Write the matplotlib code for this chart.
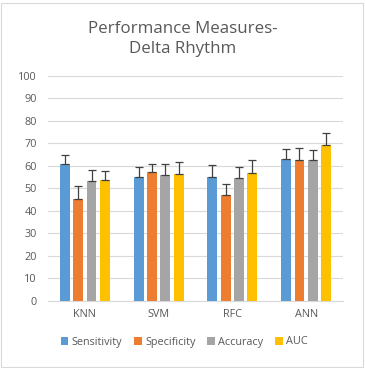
import matplotlib
matplotlib.use("Agg")
import matplotlib.pyplot as plt
import numpy as np
from matplotlib.patches import Rectangle

categories = ["KNN", "SVM", "RFC", "ANN"]
series = ["Sensitivity", "Specificity", "Accuracy", "AUC"]
sensitivity = [60.7, 55.0, 55.0, 63.0]
specificity = [45.3, 57.2, 47.0, 62.7]
accuracy = [53.3, 55.9, 54.5, 62.7]
auc = [53.8, 56.3, 56.7, 69.2]
sensitivity_err = [4.2, 4.3, 5.1, 4.3]
specificity_err = [5.5, 3.7, 4.7, 5.0]
accuracy_err = [4.6, 5.0, 4.8, 4.3]
auc_err = [3.7, 5.2, 5.7, 5.3]
yticks = [0, 10, 20, 30, 40, 50, 60, 70, 80, 90, 100]
colors = ["#5B9BD5", "#ED7D31", "#A5A5A5", "#FFC000"]

values = [sensitivity, specificity, accuracy, auc]
errs = [sensitivity_err, specificity_err, accuracy_err, auc_err]

plt.rcParams['font.family'] = ['Open Sans', 'DejaVu Sans']
fig = plt.figure(figsize=(3.65, 3.68), dpi=100)
ax = fig.add_axes([48/365, 1 - 300.7/368, 295/365, 225/368])

x = np.arange(len(categories))
step = 0.18
width = 0.135
for i, (vals, e, c, name) in enumerate(zip(values, errs, colors, series)):
    pos = x + (i - 1.5) * step
    ax.bar(pos, vals, width, color=c, label=name, zorder=3)
    ax.errorbar(pos, vals, yerr=[np.zeros(len(e)), e], fmt='none', ecolor='#404040',
                elinewidth=0.9, capsize=3, capthick=0.9, zorder=4)

ax.set_xlim(-0.5, 3.5)
ax.set_ylim(0, 100)
ax.set_yticks(yticks)
ax.set_xticks(x)
ax.set_xticklabels(categories)
ax.grid(axis='y', color='#D9D9D9', linewidth=0.8, zorder=0)
for s in ['top', 'right', 'left']:
    ax.spines[s].set_visible(False)
ax.spines['bottom'].set_color('#D9D9D9')
ax.tick_params(axis='both', length=0, labelsize=7.8, colors='#595959')
ax.tick_params(axis='y', pad=8)
ax.tick_params(axis='x', pad=6)

fig.text(0.5, 1 - 39/368, "Performance Measures-\nDelta Rhythm", ha='center', va='center',
         fontsize=12.2, color='#595959', linespacing=1.4)

leg = fig.legend(loc='center', bbox_to_anchor=(0.505, 1 - 342/368), ncol=4, frameon=False,
                 fontsize=7.8, handlelength=0.7, handleheight=0.7, handletextpad=0.3,
                 columnspacing=1.1, labelcolor='#595959')

fig.patches.append(Rectangle((1.5/365, 1.5/368), 361/365, 364/368, transform=fig.transFigure,
                             fill=False, edgecolor='#D9D9D9', linewidth=0.8))

fig.savefig("out.png", dpi=100)
